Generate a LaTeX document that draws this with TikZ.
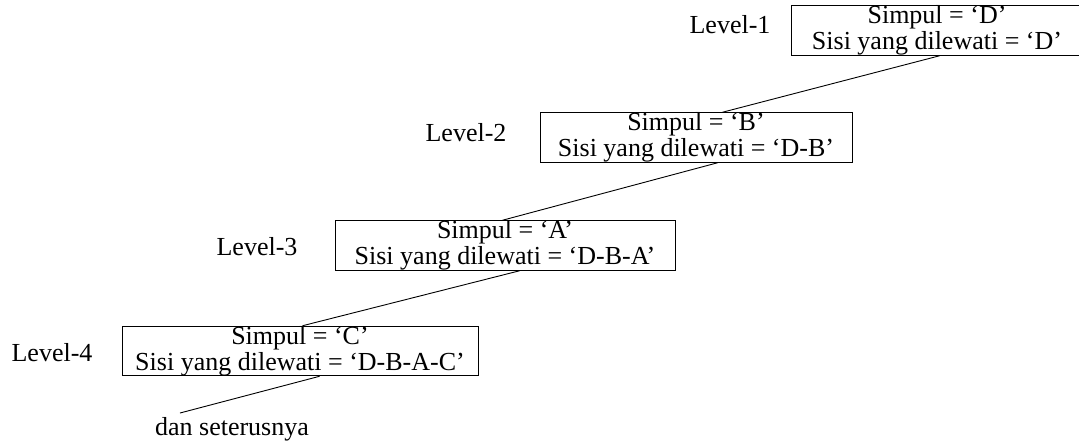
\documentclass[tikz,border=0pt]{standalone}
\usepackage{fontspec}
\setmainfont{Liberation Serif}
\usetikzlibrary{calc}
\begin{document}
\begin{tikzpicture}[x=1pt,y=-1pt,
  lvbox/.style={draw, line width=0.9pt, inner sep=0pt, minimum height=49pt, align=center, font=\fontsize{26}{26}\selectfont},
  lvlabel/.style={inner sep=0pt, font=\fontsize{26}{26}\selectfont},
  conn/.style={line width=0.9pt}]
\useasboundingbox (0,0) rectangle (1079,440);
\node[lvbox, minimum width=292pt] (b1) at (937,30.5) {Simpul = ‘D’\\Sisi yang dilewati = ‘D’};
\node[lvbox, minimum width=312pt] (b2) at (696,137.5) {Simpul = ‘B’\\Sisi yang dilewati = ‘D-B’};
\node[lvbox, minimum width=340pt] (b3) at (505,245.5) {Simpul = ‘A’\\Sisi yang dilewati = ‘D-B-A’};
\node[lvbox, minimum width=356pt, minimum height=48pt] (b4) at (300,351) {Simpul = ‘C’\\Sisi yang dilewati = ‘D-B-A-C’};
\node[lvlabel] (l1) at (730,25) {Level-1};
\node[lvlabel] (l2) at (466,133) {Level-2};
\node[lvlabel] (l3) at (257,247) {Level-3};
\node[lvlabel] (l4) at (52,353) {Level-4};
\node[lvlabel, anchor=base] (etc) at (232,435) {dan seterusnya};
\coordinate (end) at (180,413);
\draw[conn] ($(b1.south west)+(149,0)$) -- ($(b2.north west)+(183,0)$);
\draw[conn] ($(b2.south west)+(178,0)$) -- ($(b3.north west)+(168,0)$);
\draw[conn] ($(b3.south west)+(185,0)$) -- ($(b4.north west)+(181,0)$);
\draw[conn] ($(b4.south west)+(198,0)$) -- (end);
\end{tikzpicture}
\end{document}
